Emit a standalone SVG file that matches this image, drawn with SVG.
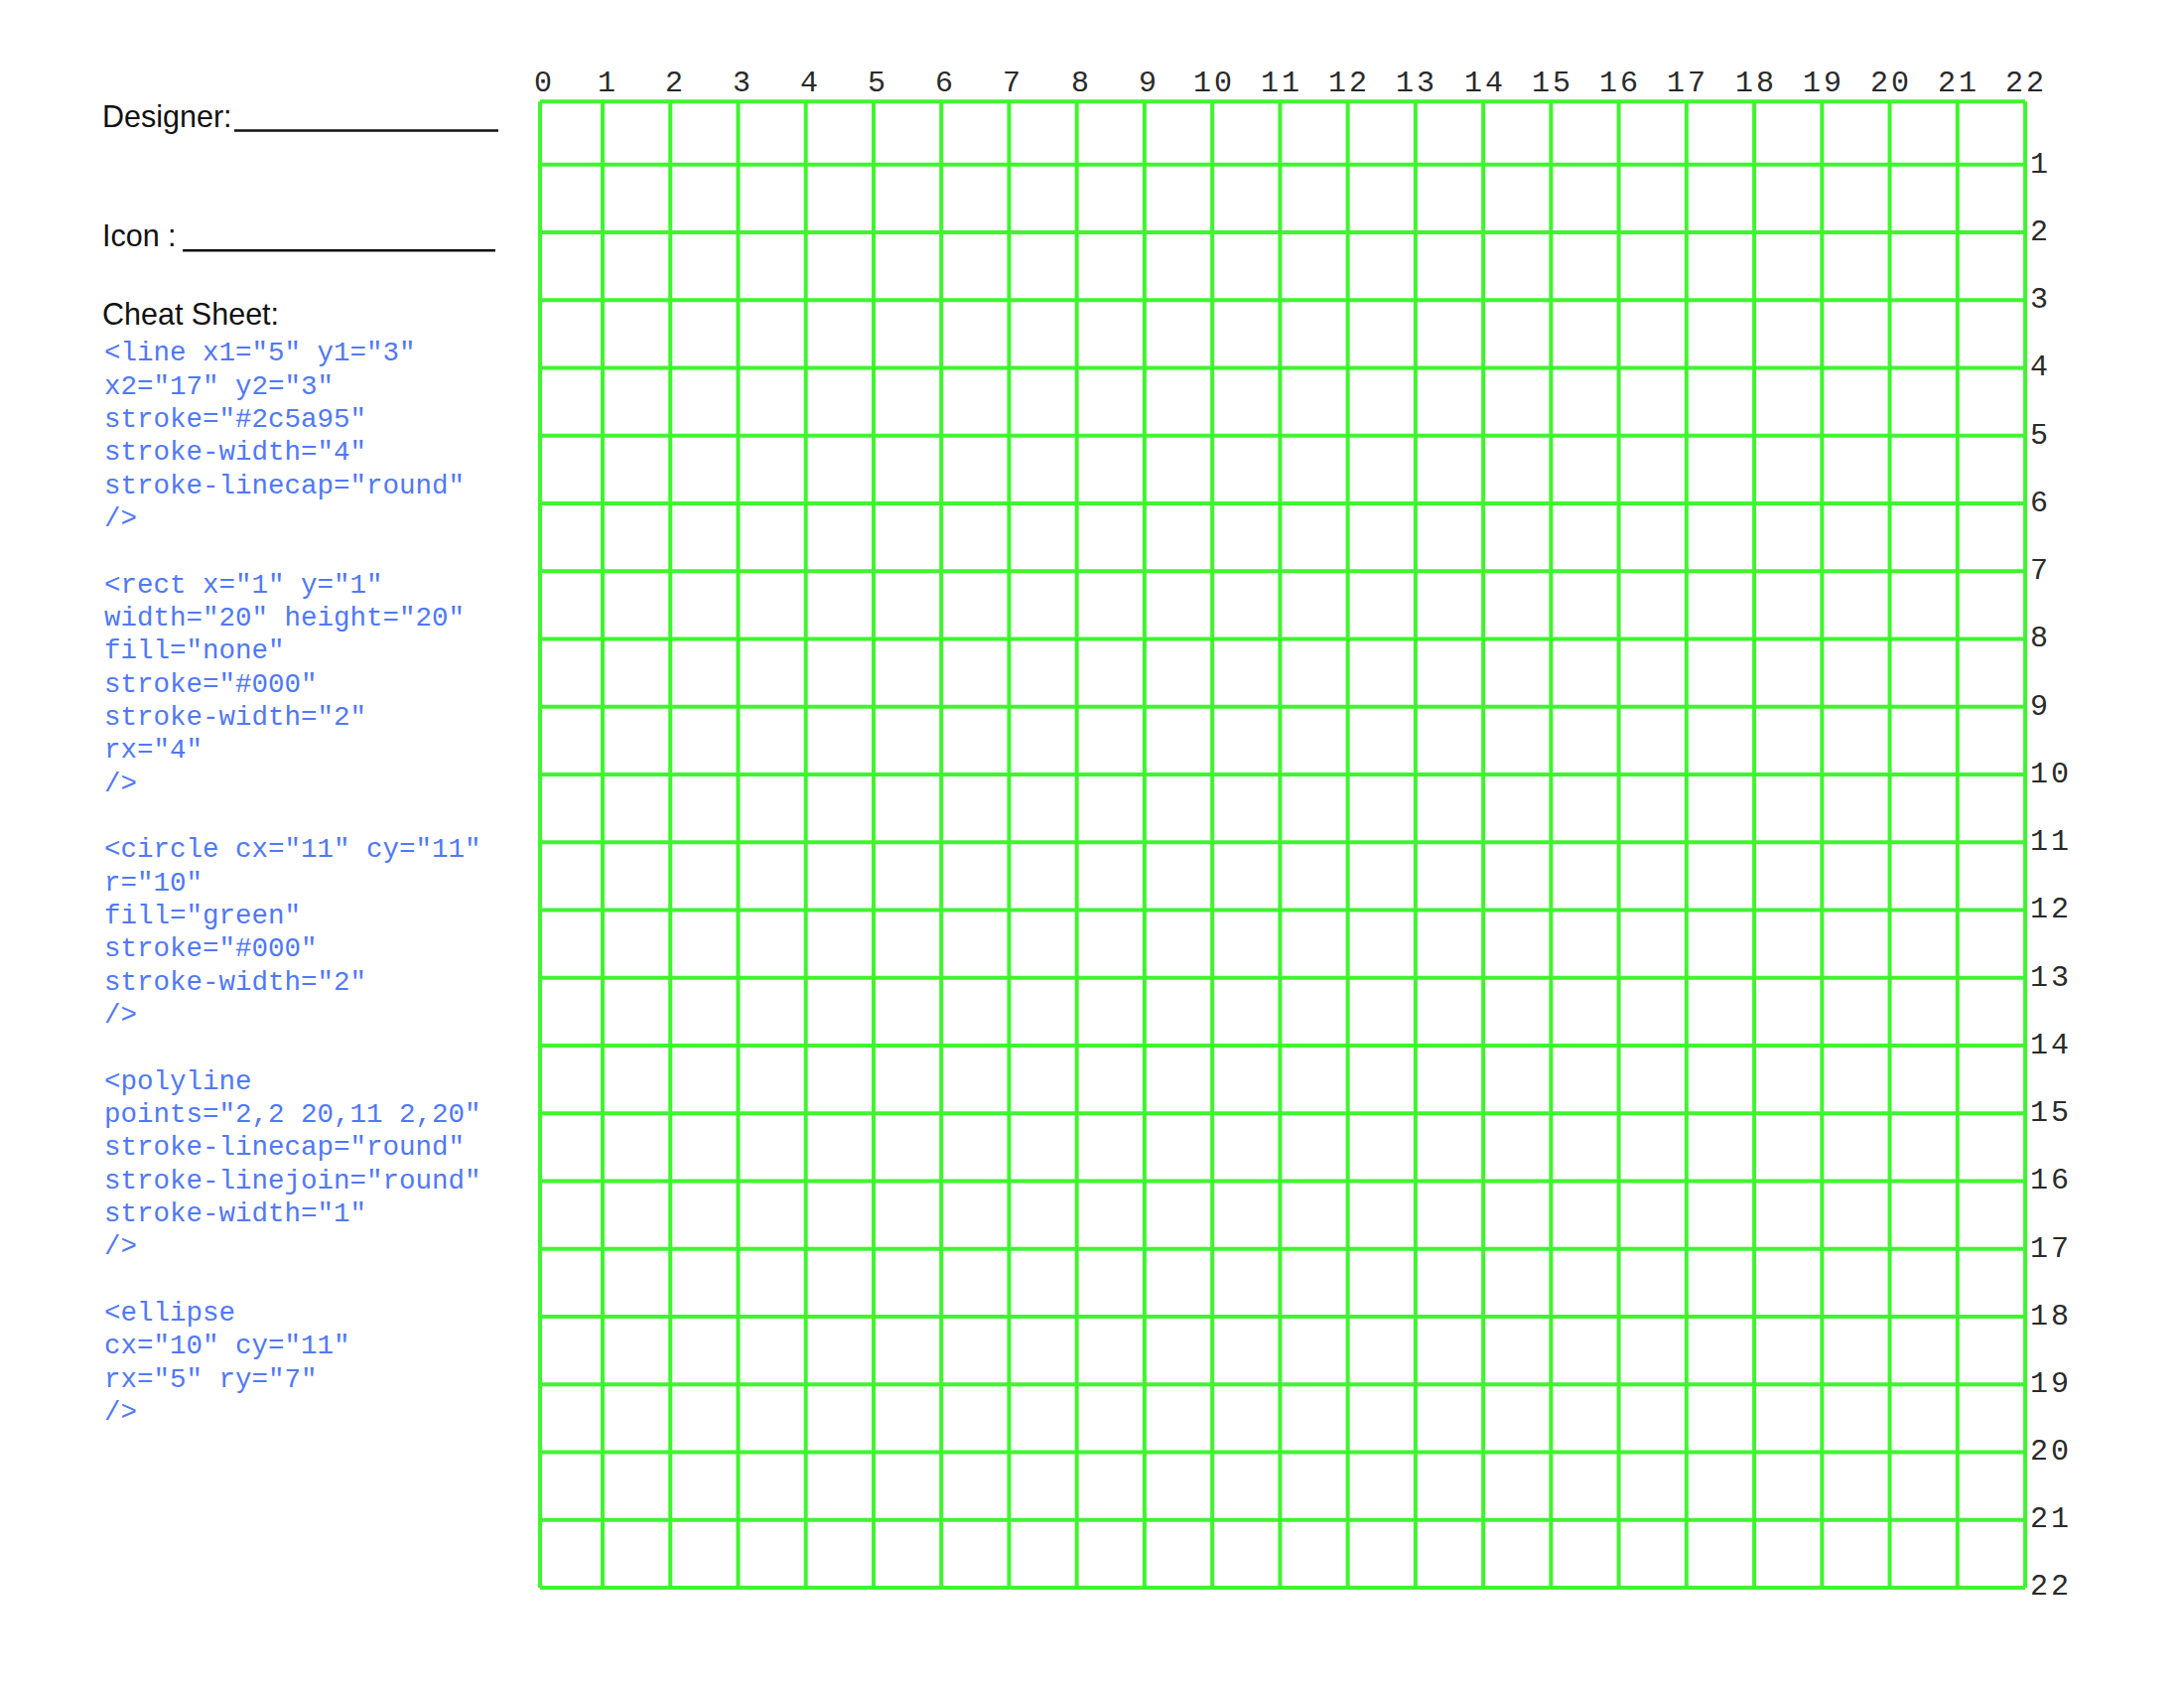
<svg xmlns="http://www.w3.org/2000/svg" width="2200" height="1700" viewBox="0 0 2200 1700">
<style>
.g{stroke:#3ef52e;stroke-width:4;fill:none}
.lbl{font-family:"Liberation Mono",monospace;font-size:30px;fill:#2a2a2a}
.top{text-anchor:middle}
.two{letter-spacing:3px}
.hd{font-family:"Liberation Sans",Arial,sans-serif;font-size:30.5px;fill:#111}
.code{font-family:"Liberation Mono",monospace;font-size:27.5px;fill:#5078f7}
.ul{stroke:#111;stroke-width:2.6}
</style>
<rect width="2200" height="1700" fill="#fff"/>
<g id="header">
<text class="hd" x="103" y="128">Designer:</text>
<line class="ul" x1="236" y1="131.5" x2="502" y2="131.5"/>
<text class="hd" x="103" y="248">Icon :</text>
<line class="ul" x1="184" y1="252.3" x2="499" y2="252.3"/>
<text class="hd" x="103" y="327">Cheat Sheet:</text>
</g>
<g id="cheatsheet" class="code">
<text x="105" y="363.3">&lt;line x1="5" y1="3"</text>
<text x="105" y="396.6">x2="17" y2="3"</text>
<text x="105" y="430">stroke="#2c5a95"</text>
<text x="105" y="463.3">stroke-width="4"</text>
<text x="105" y="496.6">stroke-linecap="round"</text>
<text x="105" y="530">/&gt;</text>
<text x="105" y="596.6">&lt;rect x="1" y="1"</text>
<text x="105" y="630">width="20" height="20"</text>
<text x="105" y="663.3">fill="none"</text>
<text x="105" y="696.6">stroke="#000"</text>
<text x="105" y="730">stroke-width="2"</text>
<text x="105" y="763.3">rx="4"</text>
<text x="105" y="796.6">/&gt;</text>
<text x="105" y="863.3">&lt;circle cx="11" cy="11"</text>
<text x="105" y="896.6">r="10"</text>
<text x="105" y="930">fill="green"</text>
<text x="105" y="963.3">stroke="#000"</text>
<text x="105" y="996.6">stroke-width="2"</text>
<text x="105" y="1030">/&gt;</text>
<text x="105" y="1096.6">&lt;polyline</text>
<text x="105" y="1130">points="2,2 20,11 2,20"</text>
<text x="105" y="1163.3">stroke-linecap="round"</text>
<text x="105" y="1196.6">stroke-linejoin="round"</text>
<text x="105" y="1230">stroke-width="1"</text>
<text x="105" y="1263.3">/&gt;</text>
<text x="105" y="1330">&lt;ellipse</text>
<text x="105" y="1363.3">cx="10" cy="11"</text>
<text x="105" y="1396.6">rx="5" ry="7"</text>
<text x="105" y="1430">/&gt;</text>
</g>
<g id="grid" class="g">
<line x1="544" y1="102.3" x2="544" y2="1599"/>
<line x1="607" y1="102.3" x2="607" y2="1599"/>
<line x1="675.24" y1="102.3" x2="675.24" y2="1599"/>
<line x1="743.48" y1="102.3" x2="743.48" y2="1599"/>
<line x1="811.72" y1="102.3" x2="811.72" y2="1599"/>
<line x1="879.96" y1="102.3" x2="879.96" y2="1599"/>
<line x1="948.2" y1="102.3" x2="948.2" y2="1599"/>
<line x1="1016.44" y1="102.3" x2="1016.44" y2="1599"/>
<line x1="1084.68" y1="102.3" x2="1084.68" y2="1599"/>
<line x1="1152.92" y1="102.3" x2="1152.92" y2="1599"/>
<line x1="1221.16" y1="102.3" x2="1221.16" y2="1599"/>
<line x1="1289.4" y1="102.3" x2="1289.4" y2="1599"/>
<line x1="1357.64" y1="102.3" x2="1357.64" y2="1599"/>
<line x1="1425.88" y1="102.3" x2="1425.88" y2="1599"/>
<line x1="1494.12" y1="102.3" x2="1494.12" y2="1599"/>
<line x1="1562.36" y1="102.3" x2="1562.36" y2="1599"/>
<line x1="1630.6" y1="102.3" x2="1630.6" y2="1599"/>
<line x1="1698.84" y1="102.3" x2="1698.84" y2="1599"/>
<line x1="1767.08" y1="102.3" x2="1767.08" y2="1599"/>
<line x1="1835.32" y1="102.3" x2="1835.32" y2="1599"/>
<line x1="1903.56" y1="102.3" x2="1903.56" y2="1599"/>
<line x1="1971.8" y1="102.3" x2="1971.8" y2="1599"/>
<line x1="2040.04" y1="102.3" x2="2040.04" y2="1599"/>
<line x1="544" y1="102.3" x2="2040" y2="102.3"/>
<line x1="544" y1="165.7" x2="2040" y2="165.7"/>
<line x1="544" y1="233.95" x2="2040" y2="233.95"/>
<line x1="544" y1="302.2" x2="2040" y2="302.2"/>
<line x1="544" y1="370.45" x2="2040" y2="370.45"/>
<line x1="544" y1="438.7" x2="2040" y2="438.7"/>
<line x1="544" y1="506.95" x2="2040" y2="506.95"/>
<line x1="544" y1="575.2" x2="2040" y2="575.2"/>
<line x1="544" y1="643.45" x2="2040" y2="643.45"/>
<line x1="544" y1="711.7" x2="2040" y2="711.7"/>
<line x1="544" y1="779.95" x2="2040" y2="779.95"/>
<line x1="544" y1="848.2" x2="2040" y2="848.2"/>
<line x1="544" y1="916.45" x2="2040" y2="916.45"/>
<line x1="544" y1="984.7" x2="2040" y2="984.7"/>
<line x1="544" y1="1052.95" x2="2040" y2="1052.95"/>
<line x1="544" y1="1121.2" x2="2040" y2="1121.2"/>
<line x1="544" y1="1189.45" x2="2040" y2="1189.45"/>
<line x1="544" y1="1257.7" x2="2040" y2="1257.7"/>
<line x1="544" y1="1325.95" x2="2040" y2="1325.95"/>
<line x1="544" y1="1394.2" x2="2040" y2="1394.2"/>
<line x1="544" y1="1462.45" x2="2040" y2="1462.45"/>
<line x1="544" y1="1530.7" x2="2040" y2="1530.7"/>
<line x1="544" y1="1599" x2="2040" y2="1599"/>
</g>
<g id="top-labels" class="lbl top">
<text x="547" y="92">0</text>
<text x="611" y="92">1</text>
<text x="679" y="92">2</text>
<text x="747" y="92">3</text>
<text x="815" y="92">4</text>
<text x="883" y="92">5</text>
<text x="951" y="92">6</text>
<text x="1019" y="92">7</text>
<text x="1088" y="92">8</text>
<text x="1156" y="92">9</text>
<text class="two" x="1223" y="92">10</text>
<text class="two" x="1291" y="92">11</text>
<text class="two" x="1359" y="92">12</text>
<text class="two" x="1427" y="92">13</text>
<text class="two" x="1496" y="92">14</text>
<text class="two" x="1564" y="92">15</text>
<text class="two" x="1632" y="92">16</text>
<text class="two" x="1700" y="92">17</text>
<text class="two" x="1769" y="92">18</text>
<text class="two" x="1837" y="92">19</text>
<text class="two" x="1905" y="92">20</text>
<text class="two" x="1973" y="92">21</text>
<text class="two" x="2041" y="92">22</text>
</g>
<g id="side-labels" class="lbl two">
<text x="2045" y="174">1</text>
<text x="2045" y="242">2</text>
<text x="2045" y="310">3</text>
<text x="2045" y="378">4</text>
<text x="2045" y="447">5</text>
<text x="2045" y="515">6</text>
<text x="2045" y="583">7</text>
<text x="2045" y="651">8</text>
<text x="2045" y="720">9</text>
<text x="2045" y="788">10</text>
<text x="2045" y="856">11</text>
<text x="2045" y="924">12</text>
<text x="2045" y="993">13</text>
<text x="2045" y="1061">14</text>
<text x="2045" y="1129">15</text>
<text x="2045" y="1197">16</text>
<text x="2045" y="1266">17</text>
<text x="2045" y="1334">18</text>
<text x="2045" y="1402">19</text>
<text x="2045" y="1470">20</text>
<text x="2045" y="1538">21</text>
<text x="2045" y="1606">22</text>
</g>
</svg>
